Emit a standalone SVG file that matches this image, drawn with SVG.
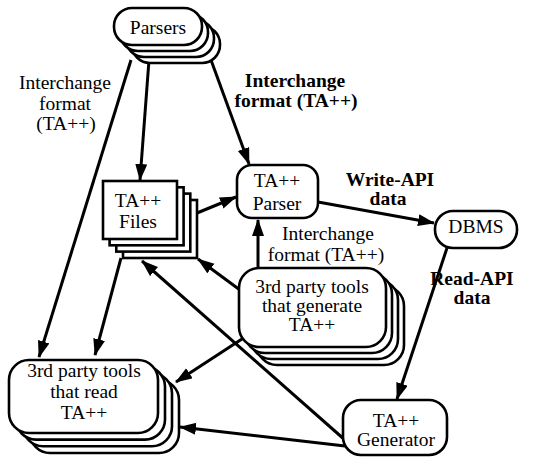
<svg xmlns="http://www.w3.org/2000/svg" width="534" height="459" viewBox="0 0 534 459">
<style>
.n{fill:#fff;stroke:#000;stroke-width:2.6}
.t{font-family:"Liberation Serif","Times New Roman",Times,Tinos,"Noto Serif","DejaVu Serif",FreeSerif,"Nimbus Roman",serif;font-size:19.5px;text-anchor:middle;fill:#000}
.b{font-weight:bold}
.c{stroke:#000;stroke-width:3;fill:none;marker-end:url(#ah)}
</style>
<defs>
<marker id="ah" markerUnits="userSpaceOnUse" markerWidth="18" markerHeight="14" refX="16" refY="6" orient="auto">
<path d="M0,0 L17,6 L0,12 Z" fill="#000"/>
</marker>
</defs>
<rect width="534" height="459" fill="#fff"/>
<g id="connectors">
<line class="c" x1="149" y1="60" x2="140" y2="180"/>
<line class="c" x1="211" y1="60" x2="249" y2="164"/>
<line class="c" x1="131" y1="60" x2="39" y2="357"/>
<line class="c" x1="318" y1="202" x2="434" y2="223"/>
<line class="c" x1="447" y1="248" x2="397" y2="399"/>
<line class="c" x1="258" y1="268" x2="258" y2="220"/>
<line class="c" x1="240" y1="290" x2="198" y2="259"/>
<line class="c" x1="345" y1="440" x2="142" y2="261"/>
<line class="c" x1="345" y1="446" x2="180" y2="427"/>
<line class="c" x1="245" y1="337" x2="176" y2="382"/>
<line class="c" x1="121" y1="258" x2="95" y2="355"/>
<line class="c" x1="197" y1="213" x2="236" y2="197"/>
</g>
<g id="labels">
<text class="t" x="65" y="89">Interchange</text>
<text class="t" x="65" y="110">format</text>
<text class="t" x="66" y="130">(TA++)</text>
<text class="t b" x="295" y="87">Interchange</text>
<text class="t b" x="296" y="107">format (TA++)</text>
<text class="t b" x="390" y="186">Write-API</text>
<text class="t b" x="388" y="205">data</text>
<text class="t b" x="472" y="285">Read-API</text>
<text class="t b" x="472" y="304">data</text>
<text class="t" x="328" y="240">Interchange</text>
<text class="t" x="326" y="261">format (TA++)</text>
</g>
<g id="parsers">
<rect class="n" x="132" y="26" width="88" height="37" rx="18"/>
<rect class="n" x="126" y="20" width="88" height="37" rx="18"/>
<rect class="n" x="120" y="14" width="88" height="37" rx="18"/>
<rect class="n" x="114" y="8" width="88" height="37" rx="18"/>
<text class="t" x="158" y="34">Parsers</text>
</g>
<g id="ta-files">
<rect class="n" x="123" y="200" width="74" height="58"/>
<rect class="n" x="116.3" y="193.6" width="74" height="58"/>
<rect class="n" x="109.6" y="187.3" width="74" height="58"/>
<rect class="n" x="103" y="181" width="74" height="58"/>
<text class="t" x="138" y="207">TA++</text>
<text class="t" x="138" y="228">Files</text>
</g>
<g id="ta-parser">
<rect class="n" x="237" y="165" width="81" height="53" rx="15"/>
<text class="t" x="277" y="187">TA++</text>
<text class="t" x="277" y="210">Parser</text>
</g>
<g id="dbms">
<rect class="n" x="435" y="211" width="82" height="37" rx="18"/>
<text class="t" x="476" y="233">DBMS</text>
</g>
<g id="tools-generate">
<rect class="n" x="257" y="286" width="147" height="79" rx="20"/>
<rect class="n" x="251" y="280" width="147" height="79" rx="20"/>
<rect class="n" x="245" y="274" width="147" height="79" rx="20"/>
<rect class="n" x="239" y="268" width="147" height="79" rx="20"/>
<text class="t" x="312" y="293">3rd party tools</text>
<text class="t" x="312" y="312">that generate</text>
<text class="t" x="312" y="331">TA++</text>
</g>
<g id="tools-read">
<rect class="n" x="30" y="380" width="149" height="73" rx="20"/>
<rect class="n" x="23" y="373.3" width="149" height="73" rx="20"/>
<rect class="n" x="16" y="366.6" width="149" height="73" rx="20"/>
<rect class="n" x="9" y="360" width="149" height="73" rx="20"/>
<text class="t" x="84" y="377">3rd party tools</text>
<text class="t" x="84" y="398">that read</text>
<text class="t" x="84" y="419">TA++</text>
</g>
<g id="ta-generator">
<rect class="n" x="343" y="400" width="104" height="55" rx="18"/>
<text class="t" x="396" y="427">TA++</text>
<text class="t" x="396" y="446">Generator</text>
</g>
</svg>
